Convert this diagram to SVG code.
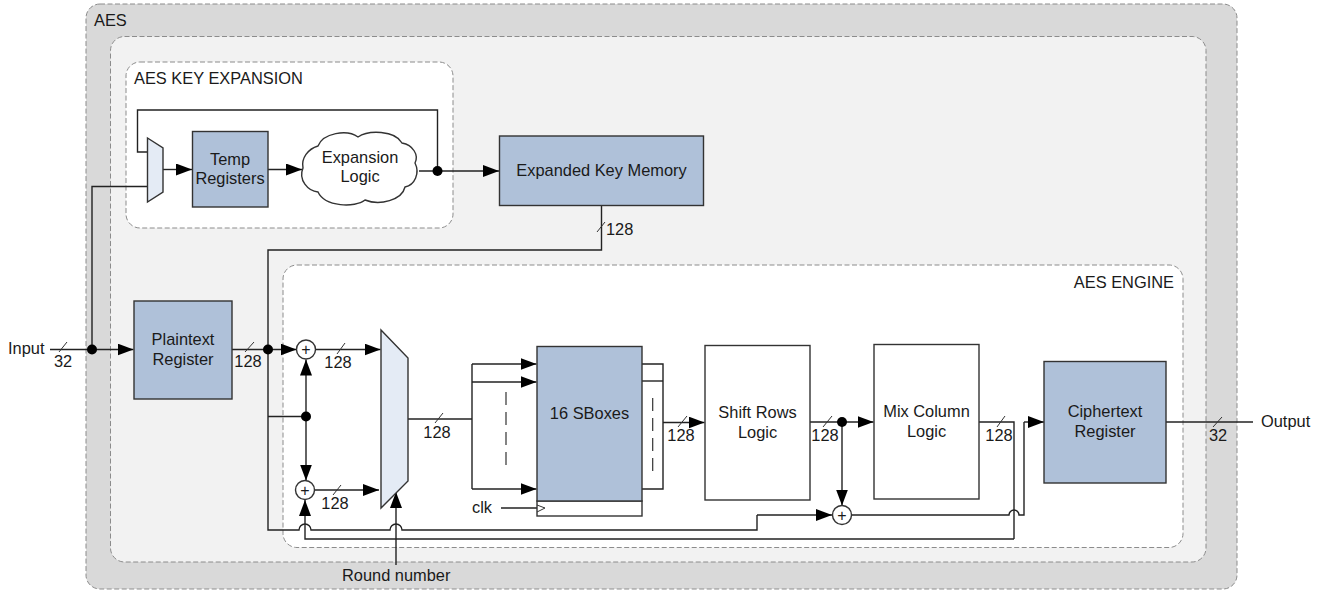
<svg xmlns="http://www.w3.org/2000/svg" width="1320" height="590" viewBox="0 0 1320 590">
<defs>
<marker id="arrow" markerUnits="userSpaceOnUse" markerWidth="17" markerHeight="12" refX="16" refY="6" orient="auto"><path d="M0,0 L16,6 L0,12 Z" fill="#000"/></marker>
</defs>
<style>
text{font-family:"Liberation Sans",Arial,sans-serif;font-size:16.4px;fill:#1a1a1a}
.m{text-anchor:middle}
.box{stroke:#333;stroke-width:1.4}
.blue{fill:#afc1d9}
.white{fill:#fff}
.frame{stroke:#8c8c8c;stroke-width:1;stroke-dasharray:5 2.5}
.w{fill:none;stroke:#222;stroke-width:1.4}
.a{marker-end:url(#arrow)}
.dash{fill:none;stroke:#333;stroke-width:1.2;stroke-dasharray:13 7}
.thin{fill:none;stroke:#333;stroke-width:1}
.dot{fill:#000}
.plus{font-size:16px}
</style>
<g id="aes"><rect class="frame" x="86" y="4" width="1151" height="585" rx="14" fill="#d9d9d9"/><text x="94" y="26">AES</text></g>
<g id="aes-inner"><rect class="frame" x="110.500" y="36.500" width="1095.500" height="525.500" rx="14" fill="#f2f2f2"/></g>
<g id="key-expansion"><rect class="frame" x="126" y="62" width="327" height="166" rx="14" fill="#fff"/><text x="134" y="84">AES KEY EXPANSION</text></g>
<g id="aes-engine"><rect class="frame" x="283" y="265" width="900" height="282.500" rx="14" fill="#fff"/><text x="1174" y="288" text-anchor="end">AES ENGINE</text></g>

<g id="connectors">
<path class="w" d="M147.500,152 H137.500 V110 H437.500 V171"/>
<path class="w a" d="M163,169.500 H192"/>
<path class="w a" d="M268,169.500 H302"/>
<path class="w a" d="M419,171 H499"/>
<path class="w" d="M601.500,206 V250 H268 V530 H299 A6,6 0 0 1 311,530 H390 A6,6 0 0 1 402,530 H757 V515"/>
<path class="w a" d="M757,515 H832"/>
<path class="w" d="M50,349.500 H92"/>
<path class="w a" d="M92,349.500 H133.500"/>
<path class="w" d="M92,349.500 V186.500 H147.500"/>
<path class="w a" d="M232,349.500 H296.500"/>
<path class="w a" d="M315.500,349.500 H380.500"/>
<path class="w a" d="M314.500,490 H379"/>
<path class="w" d="M268,416.500 H306"/>
<path class="w a" d="M306,416.500 V359.500"/>
<path class="w a" d="M306,416.500 V480.500"/>
<path class="w a" d="M1014,539 H305 V500"/>
<path class="w" d="M979,422 H1014 V539"/>
<path class="w a" d="M396,565 V492"/>
<path class="w" d="M408,419 H472"/>
<path class="w" d="M472,364 V489"/>
<path class="w a" d="M472,364 H536.500"/>
<path class="w a" d="M472,382 H536.500"/>
<path class="w a" d="M472,489 H536.500"/>
<path class="dash" d="M506,392 V472"/>
<path class="w" d="M642,364 H663 V489 H642"/>
<path class="w" d="M642,381 H663"/>
<path class="dash" d="M652.700,398 V477"/>
<path class="w a" d="M663,422.500 H704.500"/>
<path class="w a" d="M810,422 H873.500"/>
<path class="w a" d="M842,422 V505.500"/>
<path class="w" d="M851.500,515 H1009 A5,5 0 0 1 1019,515 H1024 V422"/>
<path class="w a" d="M1024,422 H1044"/>
<path class="w" d="M1166,422 H1253"/>
<path class="w" d="M501,508 H545"/>
<circle class="dot" cx="437.500" cy="171" r="5"/>
<circle class="dot" cx="92" cy="349.500" r="5"/>
<circle class="dot" cx="268" cy="349.500" r="5"/>
<circle class="dot" cx="306" cy="416.500" r="5"/>
<circle class="dot" cx="842" cy="422" r="5"/>
<path class="thin" d="M59,352 L67,342 M245,352 L254,342 M337,354 L345,343 M333,495 L341,485 M435,423 L443,413 M678,427 L687,416 M823,427 L832,416 M997,427 L1005,416 M597,232 L605,222 M1213,427 L1222,417"/>
</g>

<g id="label-32-in"><text class="m" x="63" y="367">32</text></g>
<g id="label-128-plain"><text class="m" x="248" y="367">128</text></g>
<g id="label-128-xor1"><text class="m" x="338" y="368">128</text></g>
<g id="label-128-xor2"><text class="m" x="335" y="509">128</text></g>
<g id="label-128-mux"><text class="m" x="437" y="438">128</text></g>
<g id="label-128-sbox"><text class="m" x="681" y="441">128</text></g>
<g id="label-128-shift"><text class="m" x="825" y="441">128</text></g>
<g id="label-128-mix"><text class="m" x="999" y="441">128</text></g>
<g id="label-128-key"><text x="606" y="235">128</text></g>
<g id="label-32-out"><text class="m" x="1218" y="441">32</text></g>
<g id="label-input"><text x="8" y="354">Input</text></g>
<g id="label-output"><text x="1261" y="427">Output</text></g>
<g id="label-round"><text x="342" y="581">Round number</text></g>
<g id="label-clk"><text x="472" y="513">clk</text></g>

<g id="key-mux"><path class="box" fill="#e4ebf5" d="M147.500,138 L163,148 V192 L147.500,202 Z"/></g>
<g id="temp-registers"><rect class="box blue" x="192.500" y="131.500" width="75.500" height="75.500"/><text class="m" x="230" y="165">Temp</text><text class="m" x="230" y="184">Registers</text></g>
<g id="expansion-logic"><path class="box white" d="M303,168 C301,158 308,149 318,146 C323,133 347,129 358,137 C368,130 395,130 402,143 C413,145 419,155 415,163 C420,173 415,185 405,187 C402,200 380,206 365,200 C355,208 325,207 318,192 C308,191 298,180 303,168 Z"/><text class="m" x="360" y="163">Expansion</text><text class="m" x="360" y="182">Logic</text></g>
<g id="expanded-key-memory"><rect class="box blue" x="499.500" y="136" width="204" height="69.500"/><text class="m" x="601.500" y="176">Expanded Key Memory</text></g>
<g id="plaintext-register"><rect class="box blue" x="134" y="301" width="98" height="98"/><text class="m" x="183" y="345">Plaintext</text><text class="m" x="183" y="365">Register</text></g>
<g id="xor-1"><circle class="box white" cx="306" cy="349.500" r="9.500"/><text class="m plus" x="306" y="355">+</text></g>
<g id="xor-2"><circle class="box white" cx="305" cy="490" r="9.500"/><text class="m plus" x="305" y="495.500">+</text></g>
<g id="xor-3"><circle class="box white" cx="842" cy="515" r="9.500"/><text class="m plus" x="842" y="520.500">+</text></g>
<g id="round-mux"><path class="box" fill="#e4ebf5" d="M381,330 L408,358 V481 L381,508 Z"/></g>
<g id="sboxes"><rect class="box white" x="537" y="501" width="105" height="15"/><path class="thin" d="M537,505 L545,508 L537,512"/><rect class="box blue" x="537" y="346.500" width="105" height="154.500"/><text class="m" x="589.500" y="419">16 SBoxes</text></g>
<g id="shift-rows"><rect class="box white" x="705" y="345.500" width="105" height="154.500"/><text class="m" x="757.500" y="418">Shift Rows</text><text class="m" x="757.500" y="438">Logic</text></g>
<g id="mix-column"><rect class="box white" x="874" y="344.500" width="105" height="154.500"/><text class="m" x="926.500" y="417">Mix Column</text><text class="m" x="926.500" y="437">Logic</text></g>
<g id="ciphertext-register"><rect class="box blue" x="1044" y="361.500" width="122" height="121.500"/><text class="m" x="1105" y="417">Ciphertext</text><text class="m" x="1105" y="437">Register</text></g>
</svg>
